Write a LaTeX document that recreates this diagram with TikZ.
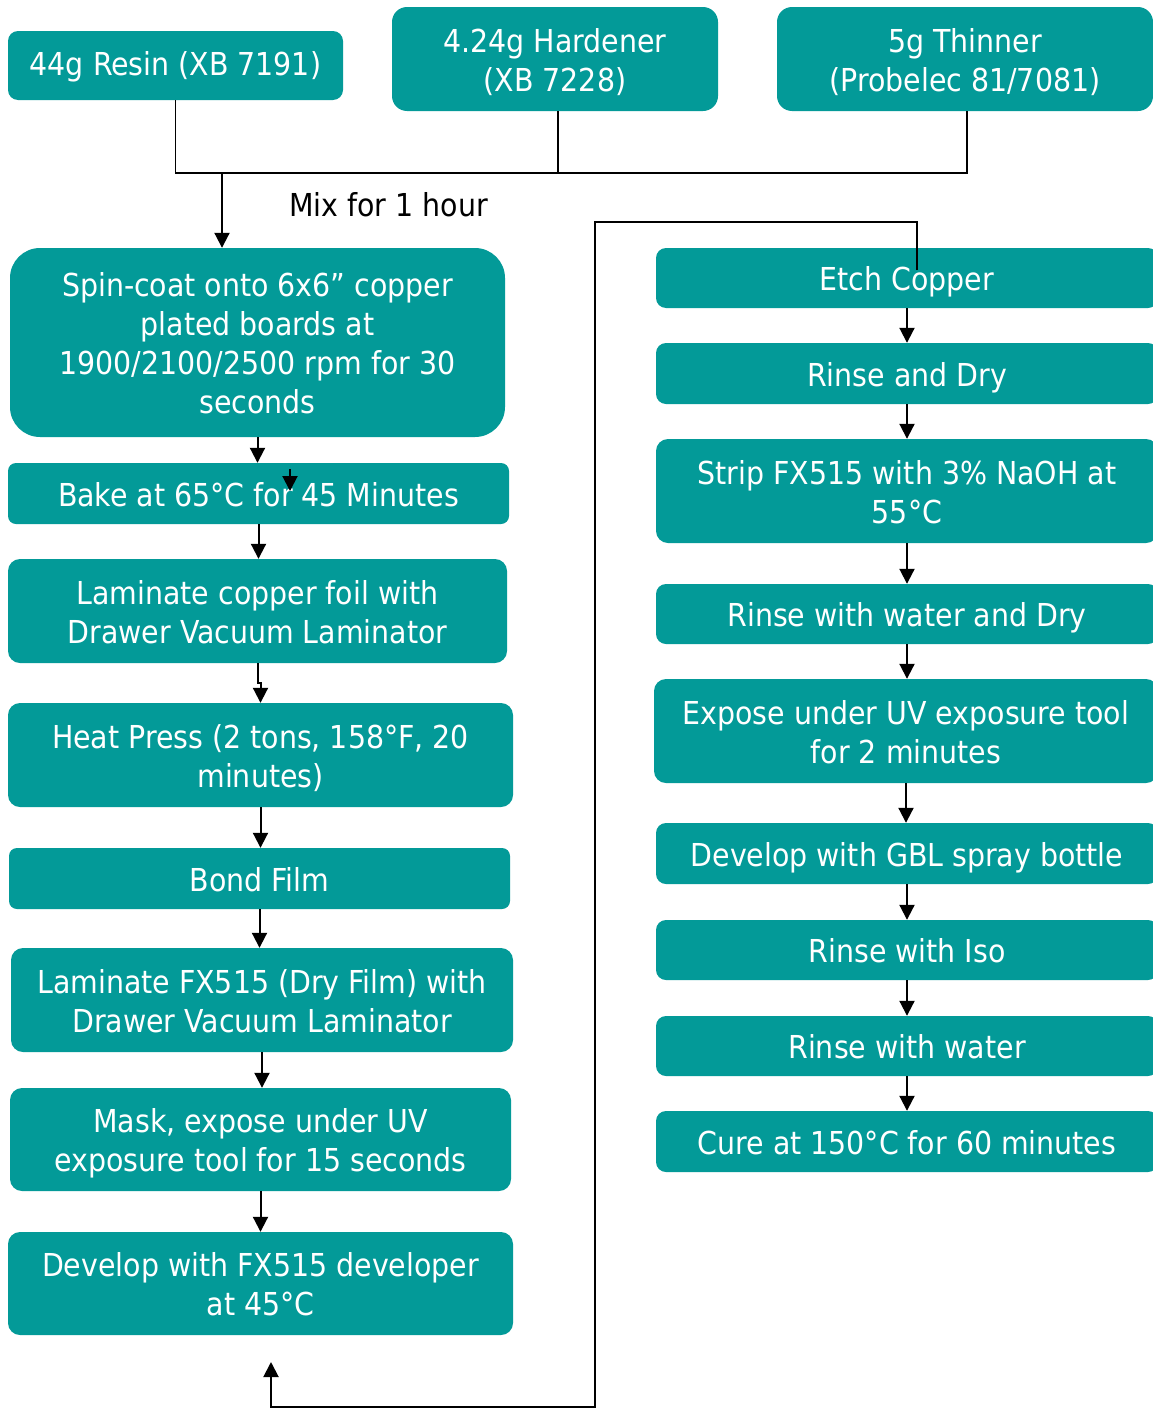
\documentclass[tikz,border=0pt]{standalone}
\usepackage{fontspec}
\newfontfamily\boxfam{DejaVu Sans Condensed}
\usetikzlibrary{arrows.meta}
\definecolor{teal1}{RGB}{3,154,152}
\newcommand{\bfnt}{\boxfam\fontsize{31.6}{39}\selectfont}
\newcommand{\tx}[2][-5pt]{\raisebox{#1}[\height][\depth]{\begin{tabular}{@{}c@{}}#2\end{tabular}}}
\begin{document}
\begin{tikzpicture}[x=1pt,y=-1pt,
  box/.style={fill=teal1, text=white, font=\bfnt, inner sep=0pt, rounded corners=10pt},
  arr/.style={-{Triangle[length=15pt,width=15pt]}, line width=2pt},
  ln/.style={line width=1.8pt}]
\useasboundingbox (0,0) rectangle (1153,1408);
\clip (0,0) rectangle (1153,1408);
% top ingredients
\node[box, minimum width=335pt, minimum height=69pt] (resin) at (175.5,65.5) {\tx[-2pt]{44g Resin (XB 7191)}};
\node[box, rounded corners=15pt, minimum width=326pt, minimum height=104pt] (hard) at (555,59) {\tx{4.24g Hardener\\(XB 7228)}};
\node[box, rounded corners=15pt, minimum width=376pt, minimum height=104pt] (thin) at (965,59) {\tx{5g Thinner\\(Probelec 81/7081)}};
% left column
\node[box, rounded corners=30pt, minimum width=495pt, minimum height=189pt] (spin) at (257.5,342.5) {\tx{Spin-coat onto 6x6” copper\\plated boards at\\1900/2100/2500 rpm for 30\\seconds}};
\node[box, rounded corners=8pt, minimum width=501pt, minimum height=61pt] (bake) at (258.5,493.5) {\tx{Bake at 65°C for 45 Minutes}};
\node[box, rounded corners=12pt, minimum width=499pt, minimum height=104pt] (lamcu) at (257.5,611) {\tx{Laminate copper foil with\\Drawer Vacuum Laminator}};
\node[box, rounded corners=12pt, minimum width=505pt, minimum height=104pt] (heat) at (260.5,755) {\tx{Heat Press (2 tons, 158°F, 20\\minutes)}};
\node[box, rounded corners=8pt, minimum width=501pt, minimum height=61pt] (bond) at (259.5,878.5) {\tx{Bond Film}};
\node[box, rounded corners=12pt, minimum width=502pt, minimum height=104pt] (lamfx) at (262,1000) {\tx{Laminate FX515 (Dry Film) with\\Drawer Vacuum Laminator}};
\node[box, rounded corners=12pt, minimum width=501pt, minimum height=103pt] (mask) at (260.5,1139.5) {\tx{Mask, expose under UV\\exposure tool for 15 seconds}};
\node[box, rounded corners=12pt, minimum width=505pt, minimum height=103pt] (dev) at (260.5,1283.5) {\tx{Develop with FX515 developer\\at 45°C}};
% right column
\node[box, minimum width=502pt, minimum height=60pt] (etch) at (907,278) {\tx{Etch Copper}};
\node[box, minimum width=502pt, minimum height=61pt] (rinse1) at (907,373.5) {\tx{Rinse and Dry}};
\node[box, rounded corners=12pt, minimum width=502pt, minimum height=104pt] (strip) at (907,491) {\tx{Strip FX515 with 3\% NaOH at\\55°C}};
\node[box, minimum width=502pt, minimum height=60pt] (rinse2) at (907,614) {\tx{Rinse with water and Dry}};
\node[box, rounded corners=12pt, minimum width=504pt, minimum height=104pt] (expose) at (906,731) {\tx{Expose under UV exposure tool\\for 2 minutes}};
\node[box, minimum width=502pt, minimum height=61pt] (gbl) at (907,853.5) {\tx{Develop with GBL spray bottle}};
\node[box, minimum width=502pt, minimum height=60pt] (iso) at (907,950) {\tx{Rinse with Iso}};
\node[box, minimum width=502pt, minimum height=60pt] (water) at (907,1046) {\tx{Rinse with water}};
\node[box, minimum width=502pt, minimum height=61pt] (cure) at (907,1141.5) {\tx{Cure at 150°C for 60 minutes}};
% mixing connector
\coordinate (mixy) at (0,173);
\coordinate (mixdown) at (222,173);
\draw[ln] (resin.south) -- (resin.south |- mixy) -- ([xshift=2pt]thin.south |- mixy) -- ([xshift=2pt]thin.south);
\draw[ln] ([xshift=3pt]hard.south) -- ([xshift=3pt]hard.south |- mixy);
\draw[arr] (mixdown) -- (spin.north -| mixdown);
\node[font=\bfnt, anchor=west, inner sep=0pt] (mixlabel) at (289,205) {Mix for 1 hour};
% left column arrows
\draw[arr] (spin.south) -- (spin.south |- bake.north);
\coordinate (stA) at (290,469);
\coordinate (stB) at (290,491);
\draw[arr] (stA) -- (stB);
\draw[arr] (bake.south) -- (bake.south |- lamcu.north);
\draw[arr] (lamcu.south) -- ++(0,20) -| (heat.north);
\draw[arr] (heat.south) -- (heat.south |- bond.north);
\draw[arr] (bond.south) -- (bond.south |- lamfx.north);
\draw[arr] (lamfx.south) -- (lamfx.south |- mask.north);
\draw[arr] (mask.south) -- (mask.south |- dev.north);
% loop connector
\coordinate (ein) at (917,270);
\coordinate (ltop) at (595,222);
\coordinate (lbot) at (595,1407);
\coordinate (dout) at (271,1362);
\draw[arr] (ein) |- (ltop) -- (lbot) -| (dout);
% right column arrows
\draw[arr] (etch.south) -- (etch.south |- rinse1.north);
\draw[arr] (rinse1.south) -- (rinse1.south |- strip.north);
\draw[arr] (strip.south) -- (strip.south |- rinse2.north);
\draw[arr] (rinse2.south) -- (rinse2.south |- expose.north);
\draw[arr] (expose.south) -- (expose.south |- gbl.north);
\draw[arr] (gbl.south) -- (gbl.south |- iso.north);
\draw[arr] (iso.south) -- (iso.south |- water.north);
\draw[arr] (water.south) -- (water.south |- cure.north);
\end{tikzpicture}
\end{document}
